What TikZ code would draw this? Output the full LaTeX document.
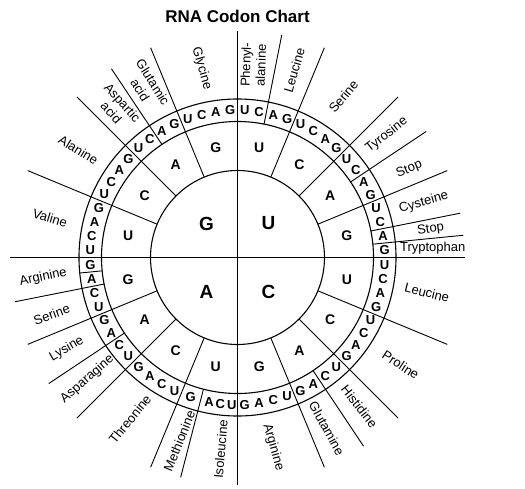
\documentclass[tikz,border=0pt]{standalone}
\usepackage{fontspec}
\setmainfont{Liberation Sans}
\begin{document}
\begin{tikzpicture}[x=1pt,y=1pt,
  circ/.style={line width=1.1pt},
  sep/.style={line width=0.9pt},
  axisline/.style={line width=1.4pt},
  third/.style={font=\fontsize{13}{13}\selectfont\bfseries, inner sep=0pt},
  second/.style={font=\fontsize{14}{14}\selectfont\bfseries, inner sep=0pt},
  first/.style={font=\fontsize{19}{19}\selectfont\bfseries, inner sep=0pt},
  aa/.style={font=\fontsize{13}{15}\selectfont, inner sep=0pt, align=center},
  titlestyle/.style={font=\fontsize{17}{17}\selectfont\bfseries, inner sep=0pt}]
\useasboundingbox (-237.5,-230.5) rectangle (287.5,257.5);
\def\ra{87}\def\rb{136}\def\rc{158.5}\def\R{227}
% circles
\draw[circ] (0,0) circle (\ra) (0,0) circle (\rb) (0,0) circle (\rc);
% axes
\coordinate (top) at (90:\R); \coordinate (bot) at (-90:\R);
\coordinate (lft) at (180:\R); \coordinate (rgt) at (0:\R);
\draw[axisline] (bot) -- (top);
\draw[axisline] (lft) -- (rgt);
% separators between second-letter sectors
\foreach \a in {67.5,45,22.5,-22.5,-45,-67.5,-112.5,-135,-157.5,157.5,135,112.5}
  \draw[sep] (\a:\ra) -- (\a:\R);
% separators between amino acids inside a sector
\foreach \a in {78.75,33.75,11.25,5.625,-56.25,-104.5,-146.25,-168.75,123.75}
  \draw[sep] (\a:\rb) -- (\a:\R);
\draw[sep] (-174.375:\rb) -- (-174.375:\rc);
% third letters
\foreach \k in {0,...,7,9,10,11,12,13,14,15}
  \foreach \l [count=\t from 0] in {U,C,A,G}
    \node[third] (t\k\l) at ({90-(4*\k+\t+0.5)*5.625}:147.25) {\l};
\foreach \l/\a in {U/-92.2,C/-96.7,A/-101.1,G/-108.5}
  \node[third] (t8\l) at (\a:147.25) {\l};
% second letters
\foreach \l [count=\s from 0] in {U,C,A,G}
  \foreach \q in {0,...,3}
    \node[second] (s\q\l) at ({90-(4*\q+\s+0.5)*22.5}:111.5) {\l};
% first letters
\node[first] (fU) at (31,34) {U};
\node[first] (fC) at (31,-34) {C};
\node[first] (fA) at (-31,-34) {A};
\node[first] (fG) at (-31,34) {G};
% amino acids
\node[aa, rotate=-74] (gly) at (-35.8,189.2) {Glycine};
\node[aa, rotate=88] (phe) at (15.8,192.5) {Phenyl-\\alanine};
\node[aa, rotate=74] (leu1) at (56.8,187.5) {Leucine};
\node[aa, rotate=50] (ser1) at (105.8,161) {Serine};
\node[aa, rotate=38] (tyr) at (149.2,122.5) {Tyrosine};
\node[aa, rotate=22] (stop1) at (171.8,88.2) {Stop};
\node[aa, rotate=16] (cys) at (186.2,54.8) {Cysteine};
\node[aa, rotate=8] (stop2) at (193.2,28.2) {Stop};
\node[aa] (trp) at (195.2,9.2) {Tryptophan};
\node[aa, rotate=-14] (leu2) at (189.5,-35.2) {Leucine};
\node[aa, rotate=-33] (pro) at (163.2,-107.5) {Proline};
\node[aa, rotate=-52] (his) at (121.8,-149.2) {Histidine};
\node[aa, rotate=-61] (gln) at (89.2,-170.8) {Glutamine};
\node[aa, rotate=-74] (arg1) at (35.8,-189.8) {Arginine};
\node[aa, rotate=85] (ile) at (-16.8,-191.8) {Isoleucine};
\node[aa, rotate=68] (met) at (-58.2,-183.5) {Methionine};
\node[aa, rotate=51] (thr) at (-107.5,-161.8) {Threonine};
\node[aa, rotate=41] (asn) at (-150.2,-121.5) {Asparagine};
\node[aa, rotate=30] (lys) at (-170.8,-91.5) {Lysine};
\node[aa, rotate=20] (ser2) at (-185.8,-56.8) {Serine};
\node[aa, rotate=12] (arg2) at (-194.2,-19.8) {Arginine};
\node[aa, rotate=-17] (val) at (-187.5,39.8) {Valine};
\node[aa, rotate=-31] (ala) at (-159.2,107.5) {Alanine};
\node[aa, rotate=-48] (asp) at (-120.5,150) {Aspartic\\acid};
\node[aa, rotate=-58] (glu) at (-91,171.5) {Glutamic\\acid};
% title
\node[titlestyle] (title) at (0,241.5) {RNA Codon Chart};
\end{tikzpicture}
\end{document}
